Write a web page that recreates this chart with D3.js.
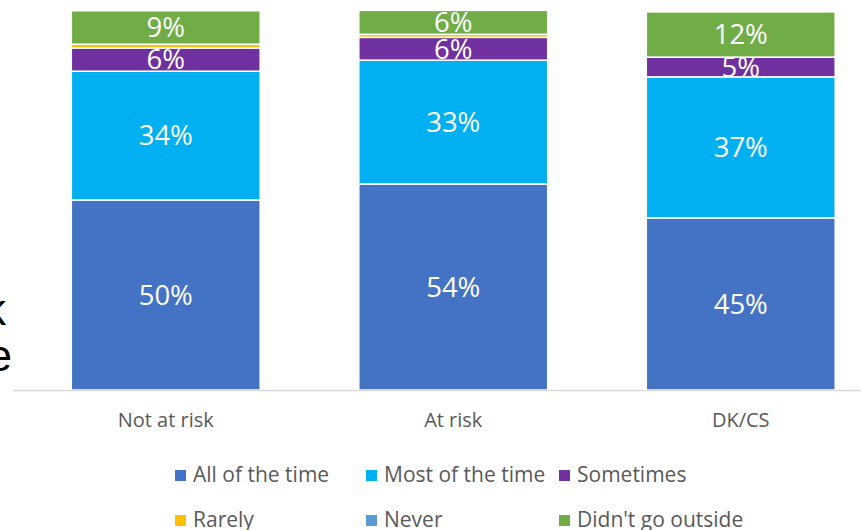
<!DOCTYPE html>
<html><head><meta charset="utf-8">
<script src="https://cdn.jsdelivr.net/npm/d3@7"></script>
<style>body{margin:0;background:#fff;} svg{display:block;}</style>
</head><body>
<svg id="c" width="861" height="530"></svg>
<script>
const categories = ["Not at risk", "At risk", "DK/CS"];
const seriesNames = ["All of the time", "Most of the time", "Sometimes", "Rarely", "Never", "Didn't go outside"];
const seriesColors = ["#4472C4", "#00B0F0", "#7030A0", "#FFC000", "#5B9BD5", "#70AD47"];
const allOfTheTime = [50.0, 54.2, 45.3];
const mostOfTheTime = [33.9, 32.6, 37.1];
const sometimes = [6.1, 6.0, 5.2];
const rarely = [1.0, 0.8, 0.0];
const never = [0.0, 0.0, 0.0];
const didntGoOutside = [8.8, 6.3, 11.9];
const labelsShown = [
  ["50%", "34%", "6%", "", "", "9%"],
  ["54%", "33%", "6%", "", "", "6%"],
  ["45%", "37%", "5%", "", "", "12%"]
];

const svg = d3.select("#c");
const seriesVals = [allOfTheTime, mostOfTheTime, sometimes, rarely, never, didntGoOutside];
const rows = categories.map((c, i) => {
  const r = {cat: c};
  seriesNames.forEach((s, j) => r[s] = seriesVals[j][i]);
  return r;
});
const stack = d3.stack().keys(seriesNames)(rows);

const x = d3.scaleBand().domain(categories).range([22, 884.5]).paddingInner(0.343).paddingOuter(0.1715);
const y = d3.scaleLinear().domain([0, 100]).range([390, 10]);

// cropped left text (partially outside the picture)
svg.append("text").attr("x", 6).attr("y", 325).attr("text-anchor", "end")
  .attr("font-family", "Liberation Sans, Arial").attr("font-size", 44).attr("fill", "#000").text("risk");
svg.append("text").attr("x", 12).attr("y", 371).attr("text-anchor", "end")
  .attr("font-family", "Liberation Sans, Arial").attr("font-size", 44).attr("fill", "#000").text("time");

const g = svg.append("g");
stack.forEach((layer, j) => {
  g.selectAll(null).data(layer).enter().append("rect")
    .attr("x", d => x(d.data.cat))
    .attr("width", x.bandwidth())
    .attr("y", d => y(d[1]))
    .attr("height", d => Math.max(0, y(d[0]) - y(d[1])))
    .attr("fill", seriesColors[j])
    .attr("stroke", "#fff").attr("stroke-width", 1.5)
    .attr("display", d => (d[1] - d[0]) > 0 ? null : "none");
});

// axis line
svg.append("line").attr("x1", 13).attr("x2", 861).attr("y1", y(0) + 0.5).attr("y2", y(0) + 0.5)
  .attr("stroke", "#D9D9D9").attr("stroke-width", 1.5);

// data labels
stack.forEach((layer, j) => {
  layer.forEach((d, i) => {
    const t = labelsShown[i][j];
    if (!t) return;
    svg.append("text")
      .attr("x", x(d.data.cat) + x.bandwidth() / 2)
      .attr("y", (y(d[0]) + y(d[1])) / 2)
      .attr("dy", "0.36em")
      .attr("text-anchor", "middle")
      .attr("font-family", "Open Sans, sans-serif").attr("font-size", 27.5)
      .attr("fill", "#fff").text(t);
  });
});

// category labels
const xAxis = d3.axisBottom(x).tickSize(0).tickPadding(0);
const ax = svg.append("g").attr("transform", "translate(0,413)").call(xAxis);
ax.select(".domain").remove();
ax.selectAll("text").attr("font-family", "Open Sans, sans-serif").attr("font-size", 20)
  .attr("fill", "#595959").attr("dy", "0.71em");

// legend
const legPos = [[175, 475], [366, 475], [559, 475], [175, 520], [366, 520], [559, 520]];
seriesNames.forEach((s, j) => {
  const [lx, ly] = legPos[j];
  svg.append("rect").attr("x", lx).attr("y", ly - 5).attr("width", 11).attr("height", 11).attr("fill", seriesColors[j]);
  svg.append("text").attr("x", lx + 18).attr("y", ly).attr("dy", "0.35em")
    .attr("font-family", "Open Sans, sans-serif").attr("font-size", 21)
    .attr("fill", "#595959").text(s);
});
</script>
</body></html>
